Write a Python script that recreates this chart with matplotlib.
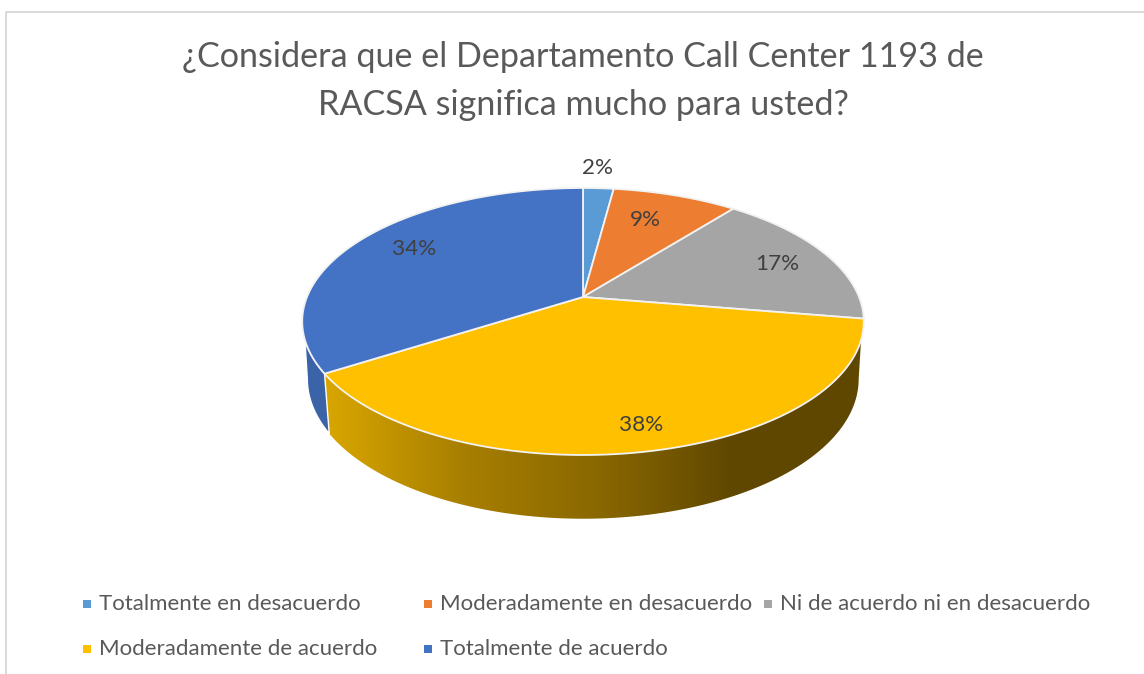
import matplotlib
matplotlib.use('Agg')
import matplotlib.pyplot as plt
import numpy as np
from matplotlib.colors import LinearSegmentedColormap
from matplotlib.patches import Polygon

# Values
categories = ['Totalmente en desacuerdo', 'Moderadamente en desacuerdo',
              'Ni de acuerdo ni en desacuerdo', 'Moderadamente de acuerdo',
              'Totalmente de acuerdo']
values = [2.1, 8.6, 16.9, 38.4, 34.0]
colors = ['#5B9BD5', '#ED7D31', '#A5A5A5', '#FFC000', '#4472C4']
title = '¿Considera que el Departamento Call Center 1193 de\nRACSA significa mucho para usted?'

plt.rcParams['font.family'] = ['Lato', 'DejaVu Sans']
TEXT = '#595959'
LABEL = '#404040'

fig = plt.figure(figsize=(11.44, 6.74), dpi=100)
ax = fig.add_axes([0, 0, 1, 1])
ax.set_xlim(0, 1144)
ax.set_ylim(674, 0)
ax.axis('off')

# chart frame, cut off by the screenshot on three sides
ax.plot([6, 6, 1144], [674, 12, 12], color='#D9D9D9', lw=1.4)


def project(theta, top=True):
    # theta is clockwise from 12 o'clock, perspective view of the pie disk
    u, v = np.sin(theta), np.cos(theta)
    k = 0.1835
    if top:
        cy, a, b = 297, 276, 129
    else:
        cy, a, b = 353.4, 271, 135
    w = 1 + k * v
    return 583 + a * u / w, cy - b * v / w


edges = np.radians(np.cumsum([0] + values) / sum(values) * 360)

# side wall: gold part fades to dark brown from left to right
wall_right = np.radians(108.3)
wall_left = np.radians(251.7)
low_right = np.radians(100.6)
low_left = np.radians(259.4)


def wall_shape(t0, t1, l0, l1):
    tt = np.linspace(t0, t1, 120)
    ll = np.linspace(l1, l0, 120)
    xu, yu = project(tt)
    xl, yl = project(ll, top=False)
    return np.column_stack([np.r_[xu, xl], np.r_[yu, yl]])


yellow_wall = Polygon(wall_shape(wall_right, edges[4], low_right, edges[4]),
                      closed=True, fc='none', ec='none')
ax.add_patch(yellow_wall)
cmap = LinearSegmentedColormap.from_list('wall', ['#D9A600', '#A87F00', '#8A6800', '#5F4700', '#5F4700'])
grad = np.linspace(0, 1, 512).reshape(1, -1)
im = ax.imshow(grad, cmap=cmap, extent=[325, 870, 530, 300], aspect='auto', zorder=1)
ax.set_xlim(0, 1144)
ax.set_ylim(674, 0)
im.set_clip_path(yellow_wall)

blue_wall = wall_shape(edges[4], wall_left, edges[4], low_left)
ax.add_patch(Polygon(blue_wall, closed=True, fc='#3A63A8', ec='white', lw=1.0, zorder=2))

# top of the pie
for i in range(len(values)):
    tt = np.linspace(edges[i], edges[i + 1], 150)
    xs, ys = project(tt)
    pts = np.column_stack([np.r_[583, xs], np.r_[297, ys]])
    ax.add_patch(Polygon(pts, closed=True, fc=colors[i], ec='#F2F2F2', lw=1.3, zorder=3))

# data labels, nudged by eye from the slice middle
label_r = [1.239, 0.73, 0.79, 0.852, 0.776]
label_turn = [-0.8, -2.5, 0.5, -0.5, 3.2]
mids = (edges[:-1] + edges[1:]) / 2 + np.radians(label_turn)
for i, val in enumerate(values):
    u, v = label_r[i] * np.sin(mids[i]), label_r[i] * np.cos(mids[i])
    w = 1 + 0.1835 * v
    ax.text(583 + 276 * u / w, 297 - 129 * v / w + 1.5, f'{val:.0f}%', fontsize=16.2,
            color=LABEL, ha='center', va='center', zorder=4)

ax.text(583, 81, title, fontsize=24.6, color=TEXT, ha='center', va='center',
        linespacing=1.6, zorder=4)

# legend, laid out by hand since its columns are uneven
leg_x = [87, 428, 768, 87, 428]
leg_y = [604, 604, 604, 649, 649]
for i, name in enumerate(categories):
    ax.plot(leg_x[i], leg_y[i], marker='s', ms=5.8, mew=0, color=colors[i], zorder=4)
    ax.text(leg_x[i] + 12, leg_y[i], name, fontsize=16.05, color=TEXT,
            ha='left', va='center', zorder=4)

fig.savefig('out.png', dpi=100)
